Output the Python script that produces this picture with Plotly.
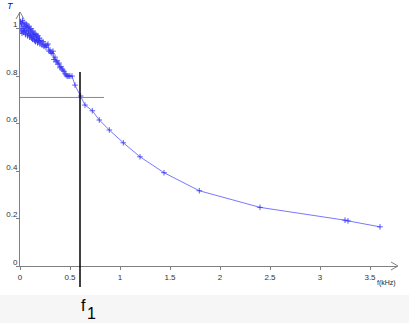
import plotly.graph_objects as go

# ---- data ----
freq_khz = [
    0.005, 0.010, 0.015, 0.020, 0.025, 0.030, 0.035, 0.040, 0.045, 0.050,
    0.055, 0.060, 0.065, 0.070, 0.075, 0.080, 0.085, 0.090, 0.095, 0.100,
    0.105, 0.110, 0.115, 0.120, 0.125, 0.130, 0.135, 0.140, 0.145, 0.150,
    0.155, 0.160, 0.165, 0.170, 0.175, 0.180, 0.185, 0.190, 0.195, 0.200,
    0.21, 0.22, 0.23, 0.24, 0.25, 0.26, 0.27, 0.28, 0.29, 0.30,
    0.31, 0.32, 0.33, 0.34, 0.35, 0.36, 0.37, 0.38, 0.39, 0.40,
    0.41, 0.42, 0.43, 0.44, 0.45, 0.46, 0.47, 0.48, 0.49, 0.50,
    0.52, 0.55, 0.607, 0.65, 0.723, 0.793, 0.893, 1.033, 1.20, 1.44,
    1.793, 2.40, 3.25, 3.28, 3.60,
]
transmission = [
    1.03, 0.99, 1.02, 0.98, 1.035, 1.00, 0.985, 1.025, 0.99, 1.01,
    0.975, 1.02, 0.99, 1.015, 0.97, 1.005, 0.98, 1.01, 0.965, 0.995,
    0.97, 1.00, 0.96, 0.985, 0.955, 0.99, 0.965, 0.975, 0.95, 0.98,
    0.945, 0.975, 0.955, 0.965, 0.94, 0.97, 0.95, 0.945, 0.96, 0.935,
    0.95, 0.93, 0.945, 0.925, 0.935, 0.92, 0.93, 0.935, 0.905, 0.91,
    0.90, 0.895, 0.905, 0.87, 0.88, 0.86, 0.865, 0.85, 0.855, 0.835,
    0.84, 0.83, 0.825, 0.82, 0.81, 0.805, 0.80, 0.80, 0.80, 0.80,
    0.80, 0.762, 0.716, 0.678, 0.654, 0.615, 0.573, 0.519, 0.460, 0.393,
    0.317, 0.247, 0.193, 0.190, 0.165,
]
x_ticks = [0, 0.5, 1, 1.5, 2, 2.5, 3, 3.5]
x_tick_labels = ["0", "0.5", "1", "1.5", "2", "2.5", "3", "3.5"]
y_ticks = [0, 0.2, 0.4, 0.6, 0.8, 1]
y_tick_labels = ["0", "0.2", "0.4", "0.6", "0.8", "1"]
f1 = 0.6
t_cut = 0.71

W, H = 409, 323
ML, MR, MT, MB = 20, 12, 12, 57
PW, PH = W - ML - MR, H - MT - MB
XMAX, YMAX = 3.77, 1.07


def px_x(p):  # pixel -> paper x
    return (p - ML) / PW


def px_y(p):  # pixel -> paper y
    return (H - MB - p) / PH


fig = go.Figure()
fig.add_trace(go.Scatter(
    x=freq_khz, y=transmission, mode="lines+markers",
    line=dict(color="rgb(120,120,255)", width=1),
    marker=dict(symbol="cross-thin", size=4,
                line=dict(color="rgb(50,50,245)", width=0.8)),
    showlegend=False, hoverinfo="skip",
))

shapes = [
    # gray band at bottom
    dict(type="rect", xref="paper", yref="paper",
         x0=px_x(0), x1=px_x(W), y0=px_y(H + 2), y1=px_y(295),
         fillcolor="#f6f6f6", line=dict(width=0), layer="below"),
    # horizontal cut line
    dict(type="line", xref="x", yref="y", x0=0, x1=0.84, y0=t_cut, y1=t_cut,
         line=dict(color="#888888", width=1)),
    # vertical f1 line
    dict(type="line", xref="x", yref="paper", x0=f1, x1=f1,
         y0=px_y(287), y1=px_y(72), line=dict(color="black", width=1.5)),
    # y axis arrow head
    dict(type="path", xref="paper", yref="paper",
         path=f"M {px_x(16)} {px_y(19)} L {px_x(20)} {px_y(12)} L {px_x(24)} {px_y(19)}",
         line=dict(color="#808080", width=1)),
    # x axis arrow head
    dict(type="path", xref="paper", yref="paper",
         path=f"M {px_x(391)} {px_y(262)} L {px_x(398)} {px_y(266)} L {px_x(391)} {px_y(270)}",
         line=dict(color="#808080", width=1)),
]

annotations = [
    dict(text="<i>T</i>", xref="paper", yref="paper", x=px_x(10), y=px_y(6),
         showarrow=False, font=dict(family="Liberation Sans", size=9, color="blue"),
         xanchor="center", yanchor="middle"),
    dict(text="f(kHz)", xref="paper", yref="paper", x=px_x(386), y=px_y(283),
         showarrow=False, font=dict(family="Liberation Sans", size=7, color="#222222"),
         xanchor="center", yanchor="middle"),
    dict(text="f", xref="paper", yref="paper", x=px_x(83), y=px_y(305),
         showarrow=False, font=dict(family="Liberation Sans", size=16, color="black"),
         xanchor="center", yanchor="middle"),
    dict(text="1", xref="paper", yref="paper", x=px_x(91.5), y=px_y(313),
         showarrow=False, font=dict(family="Liberation Sans", size=16, color="black"),
         xanchor="center", yanchor="middle"),
]

fig.update_layout(
    width=W, height=H,
    margin=dict(l=ML, r=MR, t=MT, b=MB, pad=0, autoexpand=False),
    paper_bgcolor="white", plot_bgcolor="white",
    shapes=shapes, annotations=annotations,
    xaxis=dict(range=[0, XMAX], tickvals=x_ticks, ticktext=x_tick_labels,
               automargin=False,
               showgrid=False, zeroline=False, showline=True, linecolor="#808080",
               linewidth=1, ticks="outside", ticklen=3, tickcolor="#808080",
               tickfont=dict(family="Liberation Sans", size=8, color="#333333")),
    yaxis=dict(range=[0, YMAX], tickvals=y_ticks, ticktext=y_tick_labels,
               automargin=False,
               showgrid=False, zeroline=False, showline=True, linecolor="#808080",
               linewidth=1, ticks="outside", ticklen=3, tickcolor="#808080",
               ticklabelstandoff=-3, ticklabelshift=-4,
               tickfont=dict(family="Liberation Sans", size=8, color="#333333")),
)

fig.write_html("out.html", config={"displayModeBar": False},
               post_script="document.body.style.margin='0';")
